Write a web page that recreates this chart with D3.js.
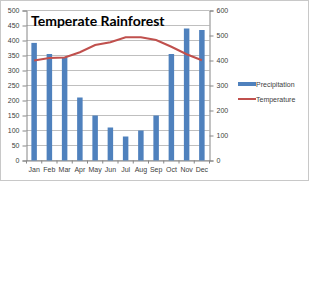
<!DOCTYPE html>
<html><head><meta charset="utf-8">
<script src="https://cdn.jsdelivr.net/npm/d3@7"></script>
<style>body{margin:0;background:#fff}svg{display:block}</style>
</head><body>
<svg id="c" width="312" height="300"></svg>
<script>
const months = ["Jan","Feb","Mar","Apr","May","Jun","Jul","Aug","Sep","Oct","Nov","Dec"];
const precipitation = [392,355,345,210,150,110,80,100,150,355,440,435];
const temperature = [400,410,412,433,462,473,493,493,482,455,425,401];
const leftTicks = [0,50,100,150,200,250,300,350,400,450,500];
const rightTicks = [0,100,200,300,400,500,600];
const seriesNames = ["Precipitation","Temperature"];
const title = "Temperate Rainforest";

const svg = d3.select("#c");
const font = "'Liberation Sans', Arial, sans-serif";
const L = 26.5, R = 209.5, T = 10.5, B = 160.5;

svg.append("rect").attr("x",0.5).attr("y",0.5).attr("width",308).attr("height",180)
  .attr("fill","#fff").attr("stroke","#C8C8C8");

const x = d3.scaleBand().domain(months).range([L,R]).paddingInner(0.64).paddingOuter(0.32);
const yL = d3.scaleLinear().domain([0,500]).range([B,T]);
const yR = d3.scaleLinear().domain([0,600]).range([B,T]);

// gridlines
svg.append("g").selectAll("line").data(leftTicks).join("line")
  .attr("x1",L).attr("x2",R).attr("y1",d=>yL(d)).attr("y2",d=>yL(d))
  .attr("stroke","#BFBFBF").attr("stroke-width",1);

// left axis
const gl = svg.append("g").attr("transform",`translate(${L},0)`)
  .call(d3.axisLeft(yL).tickValues(leftTicks).tickSize(4).tickPadding(3));
// right axis
const gr = svg.append("g").attr("transform",`translate(${R},0)`)
  .call(d3.axisRight(yR).tickValues(rightTicks).tickSize(4).tickPadding(3));
// bottom axis
const gb = svg.append("g").attr("transform",`translate(0,${B})`)
  .call(d3.axisBottom(x).tickSize(0).tickPadding(7));
// category boundary ticks
const step = x.step();
svg.append("g").selectAll("line").data(d3.range(13)).join("line")
  .attr("x1",d=>L+d*(R-L)/12).attr("x2",d=>L+d*(R-L)/12)
  .attr("y1",B).attr("y2",B+3).attr("stroke","#868686");

[gl,gr,gb].forEach(g=>{
  g.selectAll(".domain").attr("stroke","#868686");
  g.selectAll(".tick line").attr("stroke","#868686");
  g.selectAll("text").attr("font-family",font).attr("font-size",7).attr("fill","#404040");
});

// bars
svg.append("g").selectAll("rect").data(precipitation).join("rect")
  .attr("x",(d,i)=>x(months[i])).attr("width",x.bandwidth())
  .attr("y",d=>yL(d)).attr("height",d=>B-yL(d)).attr("fill","#4F81BD");

// line
const line = d3.line().x((d,i)=>x(months[i])+x.bandwidth()/2).y(d=>yR(d));
svg.append("path").datum(temperature).attr("d",line)
  .attr("fill","none").attr("stroke","#C0504D").attr("stroke-width",2);

// title
svg.append("text").attr("x",31).attr("y",25.5).text(title)
  .attr("font-family","Lato, 'Open Sans', sans-serif").attr("font-weight","bold")
  .attr("font-size",14).attr("fill","#000");

// legend
svg.append("rect").attr("x",238).attr("y",82).attr("width",18).attr("height",4).attr("fill","#4F81BD");
svg.append("line").attr("x1",238).attr("x2",256).attr("y1",99).attr("y2",99)
  .attr("stroke","#C0504D").attr("stroke-width",2);
svg.append("text").attr("x",256).attr("y",86.5).text(seriesNames[0])
  .attr("font-family",font).attr("font-size",7).attr("fill","#404040");
svg.append("text").attr("x",256).attr("y",101.5).text(seriesNames[1])
  .attr("font-family",font).attr("font-size",7).attr("fill","#404040");
</script>
</body></html>
